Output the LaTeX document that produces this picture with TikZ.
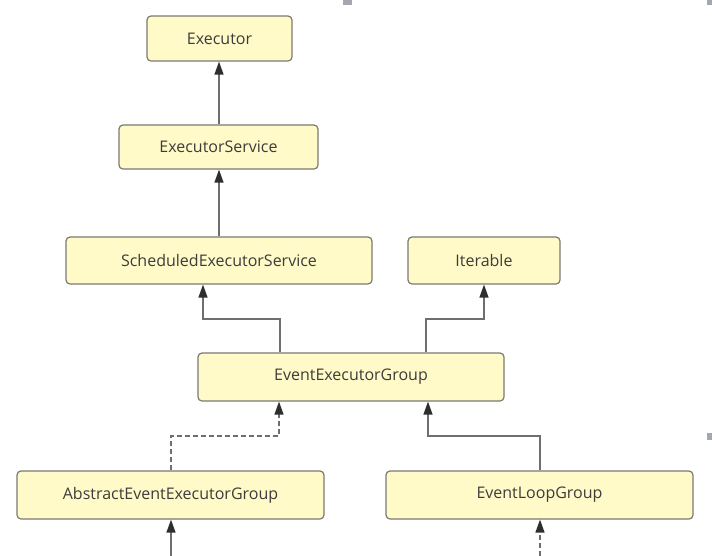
\documentclass[tikz,border=0pt]{standalone}
\usepackage{fontspec}
\setmainfont{Open Sans}
\usetikzlibrary{arrows.meta}
\definecolor{boxfill}{HTML}{FFFAC8}
\definecolor{boxline}{HTML}{7A7A72}
\definecolor{txt}{HTML}{3C3C3C}
\definecolor{lin}{HTML}{6E6E6E}
\definecolor{arr}{HTML}{2E2E2E}
\definecolor{gripc}{HTML}{A4A6B0}
\begin{document}
\begin{tikzpicture}[x=1pt,y=-1pt,
  cls/.style={draw=boxline, fill=boxfill, rounded corners=4pt, line width=1.2pt,
    text=txt, font=\fontsize{16}{18}\selectfont, inner sep=0pt},
  inh/.style={draw=lin, line width=1.3pt,
    -{Triangle[length=13pt,width=9pt,fill=arr,color=arr]}},
  impl/.style={inh, dash pattern=on 5pt off 3pt},
  grip/.style={fill=gripc}]
\fill[white] (0,0) rectangle (712,555);
\useasboundingbox (0,0) rectangle (712,555);

\node[cls, minimum width=145pt, minimum height=45pt] (exec) at (219.5,38.5) {Executor};
\node[cls, minimum width=199pt, minimum height=44pt] (es) at (218.5,147) {ExecutorService};
\node[cls, minimum width=306pt, minimum height=47pt] (ses) at (219,260.5) {ScheduledExecutorService};
\node[cls, minimum width=152pt, minimum height=47pt] (iter) at (484,260.5) {Iterable};
\node[cls, minimum width=306pt, minimum height=48pt] (eeg) at (351,377) {EventExecutorGroup};
\node[cls, minimum width=307pt, minimum height=48pt] (aeeg) at (170.5,495) {AbstractEventExecutorGroup};
\node[cls, minimum width=307pt, minimum height=48pt] (elg) at (539.5,495) {EventLoopGroup};

\draw[inh] (es.north -| 219,0) -- (exec.south -| 219,0);
\draw[inh] (ses.north -| 219,0) -- (es.south -| 219,0);
\draw[inh] (eeg.north -| 280,0) -- (280,319) -- (203,319) -- (ses.south -| 203,0);
\draw[inh] (eeg.north -| 426,0) -- (426,319) -- (484,319) -- (iter.south -| 484,0);
\draw[impl] (aeeg.north -| 171,0) -- (171,436) -- (279,436) -- (eeg.south -| 279,0);
\draw[inh] (elg.north -| 540,0) -- (540,436) -- (428,436) -- (eeg.south -| 428,0);

\coordinate (b1) at (171,556);
\coordinate (b2) at (540,556);
\draw[inh] (b1) -- (aeeg.south -| b1);
\draw[impl] (b2) -- (elg.south -| b2);

\fill[grip] (343,0) rectangle (352,5);
\fill[grip] (707,0) rectangle (712,5);
\fill[grip] (707,433) rectangle (712,440);
\end{tikzpicture}
\end{document}
